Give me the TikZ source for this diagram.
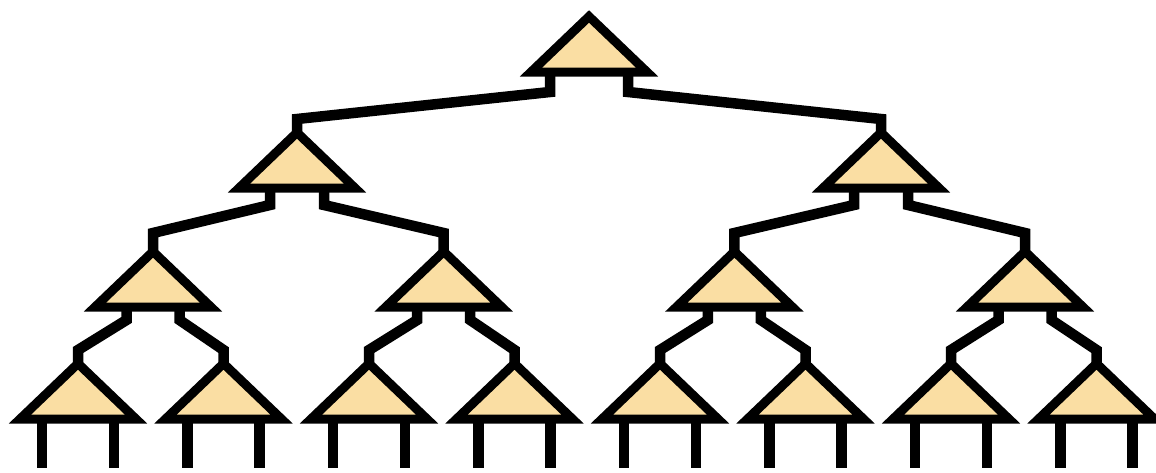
\documentclass[tikz,border=0pt]{standalone}
\usepackage{tikz}
\usetikzlibrary{calc,shapes.geometric}
\definecolor{leafcol}{RGB}{250,222,163}
\tikzset{
  tri/.style={isosceles triangle, shape border rotate=90, isosceles triangle stretches,
              draw, line width=9pt, line join=miter, fill=leafcol, inner sep=0pt, outer sep=0pt,
              minimum width=116pt, minimum height=55.5pt, anchor=apex},
  wire/.style={line width=10.5pt, line join=miter},
}
\begin{document}
\begin{tikzpicture}[x=1pt,y=-1pt]
\useasboundingbox (0,0) rectangle (1156,472);
% level 0
\node[tri] (root) at (589,16.5) {};
% level 1
\node[tri] (a) at (297,132.5) {};
\node[tri] (b) at (881,132.5) {};
% level 2
\node[tri] (aa) at (153,251.5) {};
\node[tri] (ab) at (443.7,251.5) {};
\node[tri] (ba) at (734.4,251.5) {};
\node[tri] (bb) at (1025,251.5) {};
% leaves
\node[tri] (aaa) at (78,363.5) {};
\node[tri] (aab) at (223.5,363.5) {};
\node[tri] (aba) at (369,363.5) {};
\node[tri] (abb) at (514.5,363.5) {};
\node[tri] (baa) at (660,363.5) {};
\node[tri] (bab) at (805.5,363.5) {};
\node[tri] (bba) at (951,363.5) {};
\node[tri] (bbb) at (1096.5,363.5) {};
% root -> level 1
\draw[wire] ($(root.apex)+(-39,55.5)$) -- ++(0,20) -- ($(a.apex)+(0,-13.5)$) -- (a.apex);
\draw[wire] ($(root.apex)+(39,55.5)$) -- ++(0,20) -- ($(b.apex)+(0,-13.5)$) -- (b.apex);
% level 1 -> level 2
\draw[wire] ($(a.apex)+(-27,55.5)$) -- ++(0,17) -- ($(aa.apex)+(0,-18.5)$) -- (aa.apex);
\draw[wire] ($(a.apex)+(27,55.5)$) -- ++(0,17) -- ($(ab.apex)+(0,-18.5)$) -- (ab.apex);
\draw[wire] ($(b.apex)+(-27,55.5)$) -- ++(0,17) -- ($(ba.apex)+(0,-18.5)$) -- (ba.apex);
\draw[wire] ($(b.apex)+(27,55.5)$) -- ++(0,17) -- ($(bb.apex)+(0,-18.5)$) -- (bb.apex);
% level 2 -> leaves
\draw[wire] ($(aa.apex)+(-26.5,55.5)$) -- ++(0,13) -- ($(aaa.apex)+(0,-13.5)$) -- (aaa.apex);
\draw[wire] ($(aa.apex)+(26.5,55.5)$) -- ++(0,13) -- ($(aab.apex)+(0,-13.5)$) -- (aab.apex);
\draw[wire] ($(ab.apex)+(-26.5,55.5)$) -- ++(0,13) -- ($(aba.apex)+(0,-13.5)$) -- (aba.apex);
\draw[wire] ($(ab.apex)+(26.5,55.5)$) -- ++(0,13) -- ($(abb.apex)+(0,-13.5)$) -- (abb.apex);
\draw[wire] ($(ba.apex)+(-26.5,55.5)$) -- ++(0,13) -- ($(baa.apex)+(0,-13.5)$) -- (baa.apex);
\draw[wire] ($(ba.apex)+(26.5,55.5)$) -- ++(0,13) -- ($(bab.apex)+(0,-13.5)$) -- (bab.apex);
\draw[wire] ($(bb.apex)+(-26.5,55.5)$) -- ++(0,13) -- ($(bba.apex)+(0,-13.5)$) -- (bba.apex);
\draw[wire] ($(bb.apex)+(26.5,55.5)$) -- ++(0,13) -- ($(bbb.apex)+(0,-13.5)$) -- (bbb.apex);
% open legs under the leaves
\draw[wire] ($(aaa.apex)+(-36,55.5)$) -- ++(0,49) ($(aaa.apex)+(36,55.5)$) -- ++(0,49);
\draw[wire] ($(aab.apex)+(-36,55.5)$) -- ++(0,49) ($(aab.apex)+(36,55.5)$) -- ++(0,49);
\draw[wire] ($(aba.apex)+(-36,55.5)$) -- ++(0,49) ($(aba.apex)+(36,55.5)$) -- ++(0,49);
\draw[wire] ($(abb.apex)+(-36,55.5)$) -- ++(0,49) ($(abb.apex)+(36,55.5)$) -- ++(0,49);
\draw[wire] ($(baa.apex)+(-36,55.5)$) -- ++(0,49) ($(baa.apex)+(36,55.5)$) -- ++(0,49);
\draw[wire] ($(bab.apex)+(-36,55.5)$) -- ++(0,49) ($(bab.apex)+(36,55.5)$) -- ++(0,49);
\draw[wire] ($(bba.apex)+(-36,55.5)$) -- ++(0,49) ($(bba.apex)+(36,55.5)$) -- ++(0,49);
\draw[wire] ($(bbb.apex)+(-36,55.5)$) -- ++(0,49) ($(bbb.apex)+(36,55.5)$) -- ++(0,49);
\end{tikzpicture}
\end{document}
